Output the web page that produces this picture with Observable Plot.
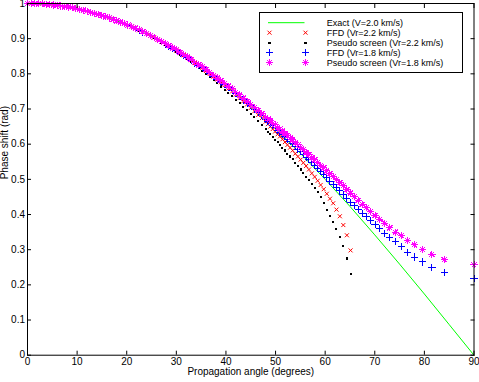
<!DOCTYPE html>
<html><head><meta charset="utf-8">
<script src="https://cdn.jsdelivr.net/npm/d3@7"></script>
<script src="https://cdn.jsdelivr.net/npm/@observablehq/plot@0.6"></script>
<style>html,body{margin:0;padding:0;background:#fff;}#chart{width:479px;height:382px;}</style>
</head><body><div id="chart"></div>
<script>
// Sampling angles (degrees) shared by the marker series
const angles = [0,0.75,1.5,2.25,3,3.75,4.5,5.25,6,6.75,7.5,8.25,9,9.75,10.5,11.25,12,12.75,13.5,14.25,15,15.75,16.5,17.25,18,18.75,19.5,20.25,21,21.75,22.5,23.25,24,24.75,25.5,26.25,27,27.75,28.5,29.25,30,30.75,31.5,32.25,33,33.75,34.5,35.25,36,36.75,37.5,38.25,39,39.75,40.5,41.25,42,42.75,43.5,44.25,45,45.75,46.5,47.25,48,
  48.47,48.95,49.43,49.91,50.40,50.89,51.39,51.89,52.40,52.92,53.45,53.97,54.51,55.05,55.60,56.16,56.73,57.31,57.89,58.49,59.09,59.71,60.33,60.97,61.62,62.28,62.96,63.66,64.38,65.12,65.87,66.66,67.46,68.30,69.16,70.06,71.00,71.99,73.03,74.13,75.31,76.57,77.98,79.60,81.53,84.00,90.00];

// Exact (V=2.0 km/s)
const exactAngles = [0,5,10,15,20,25,30,35,40,45,50,55,60,65,70,75,80,85,90];
const exactPhase = [1,0.996,0.985,0.966,0.940,0.906,0.866,0.819,0.766,0.707,0.643,0.574,0.500,0.423,0.342,0.259,0.174,0.087,0];

// FFD (Vr=2.2 km/s)
const ffd22 = [1.000,1.000,1.000,0.999,0.999,0.998,0.997,0.996,0.995,0.993,0.991,0.990,0.988,0.986,0.983,0.981,0.978,0.975,0.972,0.969,0.966,0.962,0.959,0.955,0.951,0.947,0.943,0.938,0.934,0.929,0.924,0.919,0.914,0.908,0.903,0.897,0.891,0.885,0.879,0.873,0.866,0.859,0.853,0.846,0.839,0.831,0.824,0.817,
  0.808,0.800,0.792,0.784,0.776,0.768,0.758,0.750,0.741,0.731,0.722,0.713,0.703,0.694,0.683,0.674,0.664,
  0.657,0.650,0.643,0.636,0.628,0.622,0.614,0.606,0.598,0.590,0.582,0.573,0.565,0.556,0.547,0.538,0.528,0.517,0.507,0.496,0.484,0.472,0.459,0.445,0.432,0.414,0.395,0.370,0.341,0.298];

// Pseudo screen (Vr=2.2 km/s)
const ps22 = [1.000,1.000,1.000,0.999,0.999,0.998,0.997,0.996,0.995,0.993,0.991,0.990,0.988,0.986,0.983,0.981,0.978,0.975,0.972,0.969,0.966,0.962,0.959,0.955,0.951,0.947,0.943,
  0.937,0.933,0.928,0.923,0.918,0.913,0.907,0.901,0.895,0.889,0.882,0.876,0.870,0.862,0.855,0.848,0.841,0.833,0.825,0.817,0.809,0.800,0.791,0.782,0.773,0.764,0.755,0.745,0.736,0.726,0.716,0.706,0.696,0.686,0.676,0.665,0.655,0.643,
  0.635,0.628,0.620,0.613,0.605,0.598,0.590,0.582,0.573,0.565,0.557,0.547,0.538,0.528,0.518,0.508,0.498,0.487,0.476,0.464,0.450,0.432,0.414,0.397,0.380,0.359,0.336,0.310,0.275,0.230];

// FFD (Vr=1.8 km/s)
const ffd18 = [1.000,1.000,1.000,0.999,0.999,0.998,0.997,0.996,0.995,0.993,0.991,0.990,0.988,0.986,0.983,0.981,0.978,0.975,0.972,0.969,0.966,0.962,0.959,0.955,0.951,0.947,0.943,0.938,0.934,0.929,0.924,0.919,0.914,0.908,0.903,0.897,0.891,0.885,0.879,0.873,0.866,0.859,0.853,0.846,0.839,0.831,0.824,0.817,0.809,0.801,0.793,0.785,0.777,0.769,
  0.761,0.753,0.744,0.735,0.726,0.717,0.709,0.700,0.690,0.681,0.671,
  0.665,0.659,0.653,0.647,0.640,0.634,0.628,0.621,0.614,0.607,0.601,0.593,0.586,0.579,0.571,0.563,0.556,0.547,0.540,0.531,0.523,0.514,0.505,0.495,0.486,0.476,0.467,0.456,0.445,0.435,
  0.426,0.414,0.404,0.394,0.383,0.372,0.360,0.347,0.334,0.323,0.308,0.293,0.279,0.265,0.249,0.235,0.217];

// Pseudo screen (Vr=1.8 km/s)
const ps18 = [1.000,1.000,1.000,0.999,0.999,0.998,0.997,0.996,0.995,0.993,0.991,0.990,0.988,0.986,0.983,0.981,0.978,0.975,0.972,0.969,0.966,0.962,0.959,0.955,0.951,0.947,0.943,
  0.939,0.935,0.930,0.925,0.920,0.915,0.909,0.904,0.898,0.892,0.886,0.880,0.874,0.868,0.861,0.855,0.848,0.841,0.833,0.826,0.820,0.812,0.804,0.796,0.788,0.781,0.773,0.765,0.757,0.748,0.740,0.731,0.722,0.714,0.705,0.696,0.687,0.677,
  0.672,0.667,0.660,0.655,0.648,0.643,0.637,0.630,0.624,0.618,0.612,0.604,0.598,0.591,0.584,0.577,0.570,0.562,0.556,0.548,0.540,0.533,0.524,0.516,0.507,0.499,0.491,0.482,0.471,0.461,
  0.451,0.440,0.429,0.419,0.409,0.397,0.386,0.375,0.362,0.350,0.340,0.326,0.314,0.300,0.287,0.272,0.257];

const xTicks = [0,10,20,30,40,50,60,70,80,90];
const yTicks = [0,0.1,0.2,0.3,0.4,0.5,0.6,0.7,0.8,0.9,1];
const legendLabels = ["Exact (V=2.0 km/s)","FFD (Vr=2.2 km/s)","Pseudo screen (Vr=2.2 km/s)","FFD (Vr=1.8 km/s)","Pseudo screen (Vr=1.8 km/s)"];
const xLabel = "Propagation angle (degrees)";
const yLabel = "Phase shift (rad)";

const rows = vals => vals.map((v, i) => ({angle: angles[i], phase: v}));
const exactRows = exactAngles.map((a, i) => ({angle: a, phase: exactPhase[i]}));

// MATLAB-like marker shapes
const symPlus = {draw(c, s) { const r = Math.sqrt(s / Math.PI); c.moveTo(-r, 0); c.lineTo(r, 0); c.moveTo(0, -r); c.lineTo(0, r); }};
const symTimes = {draw(c, s) { const r = Math.sqrt(s / Math.PI); c.moveTo(-r, -r); c.lineTo(r, r); c.moveTo(-r, r); c.lineTo(r, -r); }};
const symStar = {draw(c, s) { const r = Math.sqrt(s / Math.PI), d = r * 0.7071; c.moveTo(-r, 0); c.lineTo(r, 0); c.moveTo(0, -r); c.lineTo(0, r); c.moveTo(-d, -d); c.lineTo(d, d); c.moveTo(-d, d); c.lineTo(d, -d); }};

const styles = [
  {stroke: "#00ff00"},
  {symbol: symTimes, r: 2, stroke: "#ff0000", fill: "none", crisp: "auto"},
  {symbol: "square", r: 1.15, fill: "#000000", stroke: "none", crisp: "crispEdges"},
  {symbol: symPlus, r: 3.6, stroke: "#0000ff", fill: "none", crisp: "crispEdges"},
  {symbol: symStar, r: 3.6, stroke: "#ff00ff", fill: "none", crisp: "crispEdges"}
];
const fmt = d => String(d);
const dotOpts = st => ({x: "angle", y: "phase", symbol: st.symbol, r: st.r, stroke: st.stroke, fill: st.fill, strokeWidth: 1, shapeRendering: st.crisp});

const chart = Plot.plot({
  width: 479, height: 382,
  marginLeft: 27, marginRight: 5.5, marginTop: 3, marginBottom: 27.3,
  x: {domain: [0, 90]},
  y: {domain: [0, 1]},
  style: {fontFamily: "'Liberation Sans', Arial, sans-serif", fontSize: "10px", background: "#fff", color: "#000", overflow: "visible"},
  marks: [
    Plot.line(exactRows, {x: "angle", y: "phase", stroke: styles[0].stroke, strokeWidth: 1}),
    Plot.dot(rows(ffd22), dotOpts(styles[1])),
    Plot.dot(rows(ps22), dotOpts(styles[2])),
    Plot.dot(rows(ffd18), dotOpts(styles[3])),
    Plot.dot(rows(ps18), dotOpts(styles[4])),
    Plot.frame({stroke: "#000"}),
    Plot.axisX(xTicks, {anchor: "bottom", tickSize: -4, tickPadding: 7, tickFormat: fmt, label: null, fontSize: 10}),
    Plot.axisX(xTicks, {anchor: "top", tickSize: -4, tickFormat: () => "", label: null}),
    Plot.axisY(yTicks, {anchor: "left", tickSize: -4, tickPadding: 6.5, tickFormat: fmt, label: null, fontSize: 10}),
    Plot.axisY(yTicks, {anchor: "right", tickSize: -4, tickFormat: () => "", label: null}),
    Plot.text([xLabel], {text: d => d, frameAnchor: "bottom", dy: 20, fontSize: 10}),
    Plot.text([yLabel], {text: d => d, frameAnchor: "left", dx: -22.5, rotate: -90, fontSize: 10})
  ]
});
document.getElementById("chart").appendChild(chart);

// Legend inside the axes (upper right)
const svg = d3.select(chart);
const lg = svg.append("g").attr("font-family", "'Liberation Sans', Arial, sans-serif").attr("font-size", 9).attr("text-anchor", "start");
lg.append("rect").attr("x", 259.5).attr("y", 12.5).attr("width", 203).attr("height", 60)
  .attr("fill", "#fff").attr("stroke", "#000");
legendLabels.forEach((label, i) => {
  const y = 22.7 + i * 10;
  const st = styles[i];
  if (i === 0) {
    lg.append("line").attr("x1", 268).attr("x2", 304.5).attr("y1", y).attr("y2", y).attr("stroke", st.stroke);
  } else {
    [269.5, 305.5].forEach(x => {
      const type = st.symbol === "square" ? d3.symbolSquare : st.symbol;
      lg.append("path").attr("d", d3.symbol(type, Math.PI * st.r * st.r)())
        .attr("transform", `translate(${x},${y})`)
        .attr("fill", st.fill).attr("stroke", st.stroke).attr("stroke-width", 1)
        .attr("shape-rendering", st.crisp);
    });
  }
  lg.append("text").attr("x", 326.7).attr("y", y).attr("dy", "0.35em").attr("text-anchor", "start").text(label);
});
</script>
</body></html>
